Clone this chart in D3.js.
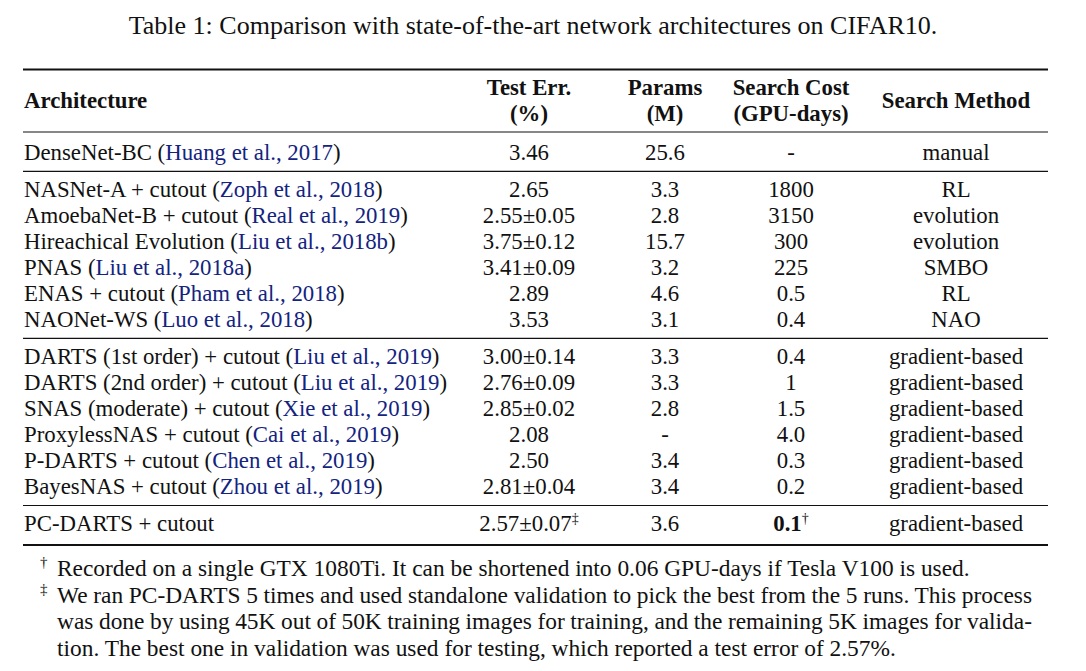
<!DOCTYPE html>
<html><head><meta charset="utf-8">
<script src="https://cdn.jsdelivr.net/npm/d3@7"></script>
<style>body{margin:0;background:#fff;}</style></head><body>
<svg id="c" width="1086" height="671"></svg>
<script>
const title = "Table 1: Comparison with state-of-the-art network architectures on CIFAR10.";
const headers = [["Architecture"],["Test Err.","(%)"],["Params","(M)"],["Search Cost","(GPU-days)"],["Search Method"]];
const architectures = ["DenseNet-BC","NASNet-A + cutout","AmoebaNet-B + cutout","Hireachical Evolution","PNAS","ENAS + cutout","NAONet-WS","DARTS (1st order) + cutout","DARTS (2nd order) + cutout","SNAS (moderate) + cutout","ProxylessNAS + cutout","P-DARTS + cutout","BayesNAS + cutout","PC-DARTS + cutout"];
const citations = [["Huang et al., ","2017"],["Zoph et al., ","2018"],["Real et al., ","2019"],["Liu et al., ","2018b"],["Liu et al., ","2018a"],["Pham et al., ","2018"],["Luo et al., ","2018"],["Liu et al., ","2019"],["Liu et al., ","2019"],["Xie et al., ","2019"],["Cai et al., ","2019"],["Chen et al., ","2019"],["Zhou et al., ","2019"],null];
const testErr = ["3.46","2.65","2.55±0.05","3.75±0.12","3.41±0.09","2.89","3.53","3.00±0.14","2.76±0.09","2.85±0.02","2.08","2.50","2.81±0.04","2.57±0.07"];
const testErrMark = ["","","","","","","","","","","","","","‡"];
const params = ["25.6","3.3","2.8","15.7","3.2","4.6","3.1","3.3","3.3","2.8","-","3.4","3.4","3.6"];
const searchCost = ["-","1800","3150","300","225","0.5","0.4","0.4","1","1.5","4.0","0.3","0.2","0.1"];
const searchCostMark = ["","","","","","","","","","","","","","†"];
const searchMethod = ["manual","RL","evolution","evolution","SMBO","RL","NAO","gradient-based","gradient-based","gradient-based","gradient-based","gradient-based","gradient-based","gradient-based"];
const sections = [0,1,1,1,1,1,1,2,2,2,2,2,2,3];
const footnotes = [
  {mark:"†", lines:["Recorded on a single GTX 1080Ti. It can be shortened into 0.06 GPU-days if Tesla V100 is used."], justify:[false]},
  {mark:"‡", lines:["We ran PC-DARTS 5 times and used standalone validation to pick the best from the 5 runs. This process",
                    "was done by using 45K out of 50K training images for training, and the remaining 5K images for valida-",
                    "tion. The best one in validation was used for testing, which reported a test error of 2.57%."], justify:[true,true,false]}
];

const FONT = '"Liberation Serif", "Times New Roman", serif';
const svg = d3.select("#c");
const FS = 22.8, TITLE_FS = 26, FOOT_FS = 23.4;
const left = 23, right = 1048;
const citeColor = "#13237f";
const ink = "#111";
function txt(parent, x, y, size){
  return parent.append("text").attr("x", x).attr("y", y)
    .attr("font-family", FONT)
    .attr("font-size", size).attr("fill", ink);
}

// title
txt(svg, 533, 34, TITLE_FS).attr("text-anchor","middle").text(title);

// column positions
const colX = d3.scaleOrdinal().domain([0,1,2,3,4]).range([24, 529, 665, 791, 956]);
const colAnchor = ["start","middle","middle","middle","middle"];

// row positions
const pitch = 26.1, secGap = 10.5;
const rowY = d3.scaleLinear().domain([0,1]).range([152, 152+pitch]);
const yOf = i => rowY(i) + sections[i]*secGap;

// rules
function rule(y, w){ svg.append("line").attr("x1",left).attr("x2",right).attr("y1",y).attr("y2",y).attr("stroke",ink).attr("stroke-width",w); }
rule(69.5, 2);
rule(132, 1.2);
const n = architectures.length;
for (let i=0;i<n-1;i++){
  if (sections[i]!==sections[i+1]) rule((yOf(i)+yOf(i+1))/2 + 1, 1.2);
}
rule(545, 2);

// header
const hdr = svg.append("g");
headers.forEach((h,j)=>{
  const cy = 100;
  h.forEach((t,k)=>{
    const y = h.length===1 ? cy+8 : cy-13+8 + k*26;
    txt(hdr, colX(j), y, FS).attr("font-weight","bold").attr("text-anchor", colAnchor[j]).text(t);
  });
});

// body
const body = svg.append("g");
architectures.forEach((a,i)=>{
  const y = yOf(i)+8;
  const t = txt(body, colX(0), y, FS);
  t.append("tspan").text(a + (citations[i] ? " (" : ""));
  if (citations[i]){
    t.append("tspan").attr("fill",citeColor).text(citations[i][0]+citations[i][1]);
    t.append("tspan").text(")");
  }
  const te = txt(body, colX(1), y, FS).attr("text-anchor","middle");
  te.append("tspan").text(testErr[i]);
  if (testErrMark[i]) te.append("tspan").attr("dy",-8).attr("font-size",14).text(testErrMark[i]);
  txt(body, colX(2), y, FS).attr("text-anchor","middle").text(params[i]);
  const sc = txt(body, colX(3), y, FS).attr("text-anchor","middle");
  sc.append("tspan").attr("font-weight", searchCostMark[i] ? "bold":"normal").text(searchCost[i]);
  if (searchCostMark[i]) sc.append("tspan").attr("dy",-8).attr("font-size",14).text(searchCostMark[i]);
  txt(body, colX(4), y, FS).attr("text-anchor","middle").text(searchMethod[i]);
});

// footnotes
const fn = svg.append("g");
let fy = 576;
footnotes.forEach(f=>{
  txt(fn, 40, fy-9, 15).text(f.mark);
  f.lines.forEach((ln,k)=>{
    const t = txt(fn, 57, fy, FOOT_FS).text(ln);
    if (f.justify[k]){
      const w = t.node().getComputedTextLength();
      const spaces = (ln.match(/ /g)||[]).length;
      const target = 1032 - 57;
      t.attr("word-spacing", ((target - w)/spaces)).style("word-spacing", ((target - w)/spaces) + "px");
    }
    fy += 26.5;
  });
});
</script></body></html>
